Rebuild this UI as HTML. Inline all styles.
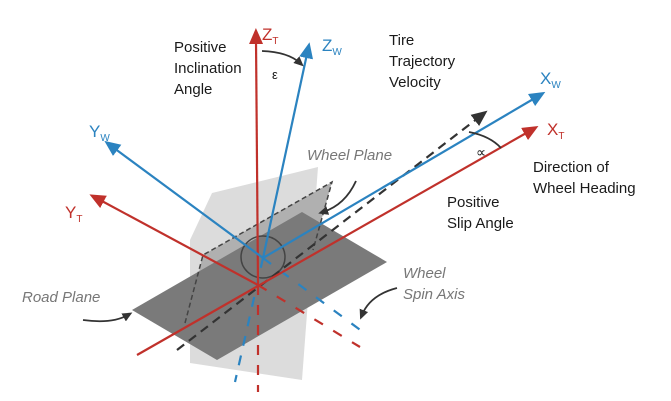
<!DOCTYPE html>
<html><head><meta charset="utf-8"><style>
html,body{margin:0;padding:0;background:#fff}
svg{display:block}
text{font-family:"Liberation Sans",sans-serif;font-size:15px;fill:#1a1a1a}
.it{font-style:italic;fill:#777}
</style></head><body>
<svg width="671" height="401" viewBox="0 0 671 401">
<defs>
<marker id="ar" markerWidth="16" markerHeight="14" refX="4" refY="7" orient="auto" markerUnits="userSpaceOnUse"><path d="M0,0 L16,7 L0,14 z" fill="#c0312b"/></marker>
<marker id="ab" markerWidth="16" markerHeight="14" refX="4" refY="7" orient="auto" markerUnits="userSpaceOnUse"><path d="M0,0 L16,7 L0,14 z" fill="#2b83c0"/></marker>
<marker id="ak" markerWidth="16" markerHeight="14" refX="4" refY="7" orient="auto" markerUnits="userSpaceOnUse"><path d="M0,0 L16,7 L0,14 z" fill="#333"/></marker>
<marker id="ak2" markerWidth="10" markerHeight="9" refX="5" refY="4.5" orient="auto" markerUnits="userSpaceOnUse"><path d="M0,0 L10,4.5 L0,9 z" fill="#333"/></marker>
</defs>
<!-- planes -->
<polygon points="190,240 212,193 318,167 302,380 190,363" fill="#dcdcdc"/>
<polygon points="203,255 332,182 313,250 300,300 185,330" fill="#b0b0b0"/>
<polygon points="132,310 302,212 387,262 217,360" fill="#7a7a7a"/>
<polyline points="185,323 203,255 332,182 313,250" fill="none" stroke="#444" stroke-width="1.5" stroke-dasharray="5,3"/>
<ellipse cx="263" cy="257" rx="22" ry="21" fill="none" stroke="#444" stroke-width="1.5"/>
<!-- dashed lines -->
<line x1="177" y1="350" x2="478" y2="118" stroke="#333" stroke-width="2.2" stroke-dasharray="9,6" marker-end="url(#ak)"/>
<line x1="258" y1="285" x2="360" y2="347" stroke="#c0312b" stroke-width="2.2" stroke-dasharray="10,12"/>
<line x1="263" y1="258" x2="363" y2="332" stroke="#2b83c0" stroke-width="2.2" stroke-dasharray="10,12"/>
<line x1="263" y1="258" x2="235" y2="382" stroke="#2b83c0" stroke-width="2.2" stroke-dasharray="10,10"/>
<line x1="258" y1="285" x2="258" y2="392" stroke="#c0312b" stroke-width="2.2" stroke-dasharray="10,10"/>
<!-- axes -->
<line x1="258" y1="285" x2="256" y2="40" stroke="#c0312b" stroke-width="2.2" marker-end="url(#ar)"/>
<line x1="258" y1="285" x2="100" y2="200" stroke="#c0312b" stroke-width="2.2" marker-end="url(#ar)"/>
<line x1="137" y1="355" x2="528" y2="132" stroke="#c0312b" stroke-width="2.2" marker-end="url(#ar)"/>
<line x1="263" y1="258" x2="307" y2="54" stroke="#2b83c0" stroke-width="2.2" marker-end="url(#ab)"/>
<line x1="263" y1="258" x2="114" y2="148" stroke="#2b83c0" stroke-width="2.2" marker-end="url(#ab)"/>
<line x1="263" y1="258" x2="535" y2="98" stroke="#2b83c0" stroke-width="2.2" marker-end="url(#ab)"/>
<!-- curved arrows -->
<path d="M262,51 Q288,52 300,63" fill="none" stroke="#333" stroke-width="1.8" marker-end="url(#ak2)"/>
<path d="M469,132 Q490,136 501,148" fill="none" stroke="#333" stroke-width="1.8"/>
<path d="M356,181 Q345,205 323,212" fill="none" stroke="#333" stroke-width="1.8" marker-end="url(#ak2)"/>
<path d="M83,320 Q112,324 128,315" fill="none" stroke="#333" stroke-width="1.8" marker-end="url(#ak2)"/>
<path d="M397,288 Q370,295 362,315" fill="none" stroke="#333" stroke-width="1.8" marker-end="url(#ak2)"/>
<!-- labels -->
<text x="262" y="40" style="fill:#c0312b;font-size:17px">Z<tspan font-size="10" dy="4">T</tspan></text>
<text x="322" y="51" style="fill:#2b83c0;font-size:17px">Z<tspan font-size="10" dy="4">W</tspan></text>
<text x="89" y="137" style="fill:#2b83c0;font-size:17px">Y<tspan font-size="10" dy="4">W</tspan></text>
<text x="65" y="218" style="fill:#c0312b;font-size:17px">Y<tspan font-size="10" dy="4">T</tspan></text>
<text x="540" y="84" style="fill:#2b83c0;font-size:17px">X<tspan font-size="10" dy="4">W</tspan></text>
<text x="547" y="135" style="fill:#c0312b;font-size:17px">X<tspan font-size="10" dy="4">T</tspan></text>
<text x="174" y="52">Positive<tspan x="174" dy="21">Inclination</tspan><tspan x="174" dy="21">Angle</tspan></text>
<text x="272" y="79" style="font-size:13px">ε</text>
<text x="389" y="45">Tire<tspan x="389" dy="21">Trajectory</tspan><tspan x="389" dy="21">Velocity</tspan></text>
<text class="it" x="307" y="160">Wheel Plane</text>
<text x="476" y="157" style="font-size:14px">∝</text>
<text x="533" y="172">Direction of<tspan x="533" dy="21">Wheel Heading</tspan></text>
<text x="447" y="207">Positive<tspan x="447" dy="21">Slip Angle</tspan></text>
<text class="it" x="22" y="302">Road Plane</text>
<text class="it" x="403" y="278">Wheel<tspan x="403" dy="21">Spin Axis</tspan></text>
</svg>
</body></html>
